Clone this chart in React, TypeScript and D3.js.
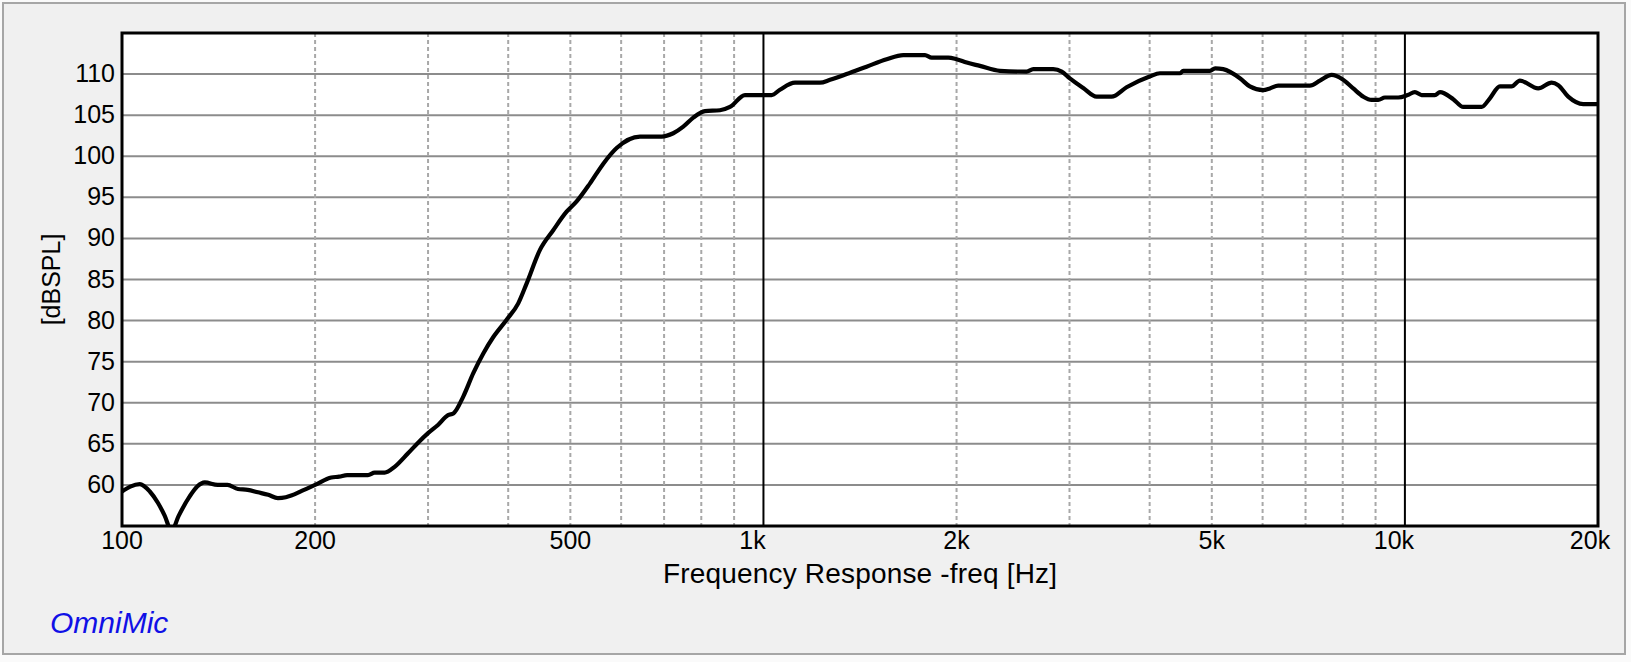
import React from "react";
import * as d3 from "d3";

const freqs: number[] = [
  100, 103, 106.6, 110.5, 113.8, 116.5, 119.5, 122.5, 127.5, 131, 134.6, 141, 146, 151.6, 157, 162.9, 169, 175, 180, 183.6,
  191, 200, 212, 218, 224.4, 241.8, 247.7, 256.7, 266.1, 279.2, 290, 300, 310.9, 322.3, 328.5, 340.4, 352.9, 365.8, 379.2,
  397.8, 414.7, 427.3, 448.3, 470.2, 493.3, 511.4, 536.6, 562.8, 590.4, 642, 693.9, 723.4, 749.9, 777.3, 810.6, 855.5,
  886.7, 935.8, 1030, 1061, 1120, 1225, 1270, 1348, 1448, 1556, 1652, 1786, 1829, 1942, 2000, 2074, 2175, 2337, 2572,
  2634, 2830, 2917, 3000, 3152, 3306, 3489, 3682, 4000, 4150, 4459, 4512, 4967, 5060, 5208, 5530, 5731, 6012, 6158, 6345,
  7111, 7370, 7687, 8000, 8307, 8611, 8873, 9087, 9307, 9763, 10100, 10366, 10617, 11138, 11340, 11895, 12330, 13168,
  13568, 14063, 14665, 15110, 16137, 16931, 17341, 17972, 18966, 20000,
];
const spl: number[] = [
  59.2, 59.8, 60.1, 59.2, 57.8, 56.3, 54.4, 56.2, 58.6, 59.8, 60.3, 60.0, 60.0, 59.5, 59.4, 59.1, 58.8, 58.4, 58.5, 58.7,
  59.3, 60.0, 60.9, 61.0, 61.2, 61.2, 61.5, 61.5, 62.2, 63.85, 65.2, 66.3, 67.3, 68.5, 68.7, 70.75, 73.6, 76.0, 78.0,
  80.1, 82.1, 84.5, 88.6, 91.0, 93.25, 94.5, 96.7, 99.1, 101.0, 102.4, 102.4, 102.8, 103.6, 104.7, 105.5, 105.6,
  106.0, 107.45, 107.45, 108.1, 108.95, 108.95, 109.3, 110.0, 110.9, 111.8, 112.3, 112.3, 112.0, 112.0, 111.8, 111.4, 111.0, 110.4, 110.3,
  110.6, 110.6, 110.3, 109.5, 108.3, 107.25, 107.25, 108.4, 109.7, 110.1, 110.1, 110.4, 110.4, 110.7, 110.6, 109.5, 108.5, 108.05, 108.25, 108.6,
  108.6, 109.2, 109.9, 109.35, 108.25, 107.25, 106.85, 106.85, 107.15, 107.15, 107.45, 107.8, 107.45, 107.45, 107.8, 106.95, 106.0, 106.0,
  107.05, 108.5, 108.5, 109.2, 108.25, 108.95, 108.65, 107.25, 106.35, 106.35,
];

const yTicks: number[] = [60, 65, 70, 75, 80, 85, 90, 95, 100, 105, 110];
const xLabelFreqs: number[] = [100, 200, 500, 1000, 2000, 5000, 10000, 20000];
const xLabelTexts: string[] = ["100", "200", "500", "1k", "2k", "5k", "10k", "20k"];
const xLabelShift: number[] = [0, 0, 0, -11, 0, 0, -11, -8];
const minorFreqs: number[] = [200, 300, 400, 500, 600, 700, 800, 900, 2000, 3000, 4000, 5000, 6000, 7000, 8000, 9000];
const majorFreqs: number[] = [1000, 10000];

const W = 1631;
const H = 662;
const left = 122;
const right = 1598;
const top = 33;
const bottom = 526;
const font = "'Liberation Sans', Arial, Helvetica, sans-serif";

export default function App() {
  const x = d3.scaleLog().domain([100, 20000]).range([left, right]);
  const y = d3.scaleLinear().domain([55, 115]).range([bottom, top]);
  const data = freqs.map((f, i) => [f, spl[i]] as [number, number]);
  const line = d3
    .line<[number, number]>()
    .x((d) => x(d[0]))
    .y((d) => y(d[1]))
    .curve(d3.curveMonotoneX);

  return (
    <svg
      width={W}
      height={H}
      style={{ position: "absolute", left: 0, top: 0, background: "#fafafa" }}
      fontFamily={font}
    >
      <rect x={3} y={3} width={1622} height={651} fill="#f0f0f0" stroke="#a6a6a6" strokeWidth={2} />
      <defs>
        <clipPath id="plotClip">
          <rect x={left} y={top} width={right - left} height={bottom - top} />
        </clipPath>
      </defs>
      <rect x={left} y={top} width={right - left} height={bottom - top} fill="#ffffff" />
      {yTicks.map((t) => (
        <line key={"h" + t} x1={left} x2={right} y1={y(t)} y2={y(t)} stroke="#8c8c8c" strokeWidth={2} />
      ))}
      {minorFreqs.map((f) => (
        <line
          key={"v" + f}
          x1={x(f)}
          x2={x(f)}
          y1={top}
          y2={bottom}
          stroke="#a8a8a8"
          strokeWidth={2}
          strokeDasharray="4,3"
        />
      ))}
      {majorFreqs.map((f) => (
        <line key={"m" + f} x1={x(f)} x2={x(f)} y1={top} y2={bottom} stroke="#000" strokeWidth={2} />
      ))}
      <path
        d={line(data) || ""}
        fill="none"
        stroke="#000"
        strokeWidth={4.2}
        strokeLinejoin="round"
        strokeLinecap="round"
        clipPath="url(#plotClip)"
      />
      <rect x={left} y={top} width={right - left} height={bottom - top} fill="none" stroke="#000" strokeWidth={3} />
      {yTicks.map((t) => (
        <text key={"yl" + t} x={115} y={y(t) + 8} textAnchor="end" fontSize={25} fill="#000">
          {t}
        </text>
      ))}
      {xLabelFreqs.map((f, i) => (
        <text key={"xl" + f} x={x(f) + xLabelShift[i]} y={549} textAnchor="middle" fontSize={25} fill="#000">
          {xLabelTexts[i]}
        </text>
      ))}
      <text
        x={(left + right) / 2}
        y={583}
        textAnchor="middle"
        fontSize={28}
        textLength={394}
        lengthAdjust="spacing"
        fill="#000"
      >
        Frequency Response -freq [Hz]
      </text>
      <text
        transform={`translate(60, ${(top + bottom) / 2}) rotate(-90)`}
        textAnchor="middle"
        fontSize={25}
        fill="#000"
      >
        [dBSPL]
      </text>
      <text x={50} y={633} fontSize={30} fontStyle="italic" fill="#1010e6">
        OmniMic
      </text>
    </svg>
  );
}
